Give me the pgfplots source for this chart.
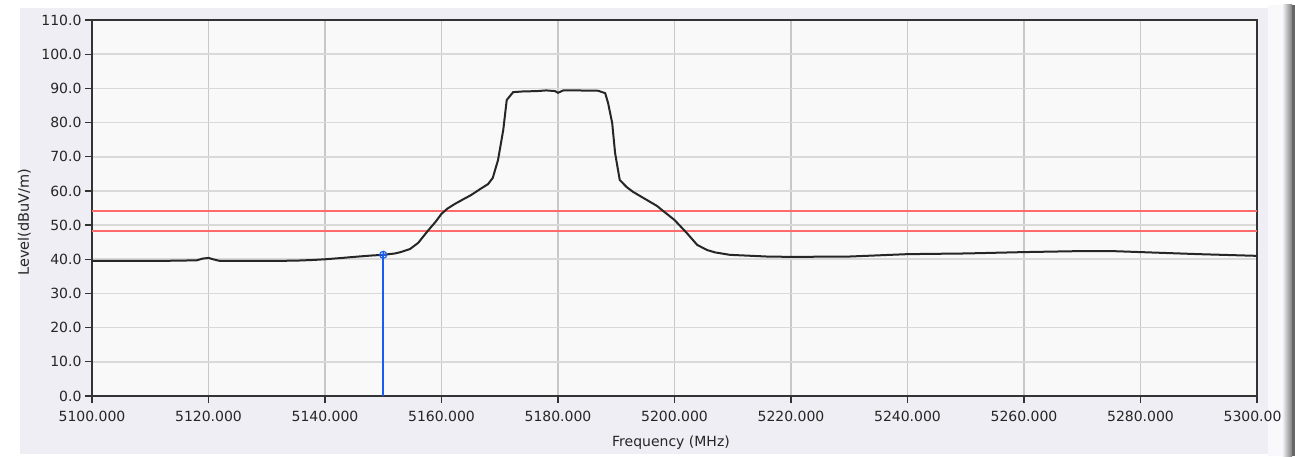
\documentclass[border=0pt]{standalone}
\usepackage{pgfplots}
\pgfplotsset{compat=1.18}
\usepackage{fontspec}
\setmainfont{DejaVu Sans}
\definecolor{panel}{HTML}{EFEEF4}
\definecolor{plotbg}{HTML}{F9F9F9}
\definecolor{gridh}{HTML}{D9D9D9}
\definecolor{gridv}{HTML}{C8C8C8}
\definecolor{limred}{HTML}{FF6A6A}
\definecolor{mkblue}{HTML}{1A5CF0}
\begin{document}
\begin{tikzpicture}
\clip (-92pt,-60pt) rectangle (1203pt,396pt);
\fill[white] (-92pt,-60pt) rectangle (1203pt,396pt);
\fill[panel] (-72pt,-58pt) rectangle (1176pt,388pt);
\fill[white!60!panel] (1176pt,-60pt) rectangle (1190pt,391pt);
\begin{axis}[
  at={(0,0)}, anchor=south west,
  width=1165pt, height=376pt, scale only axis,
  xmin=5100, xmax=5300, ymin=0, ymax=110,
  xtick={5100,5120,...,5300},
  ytick={0,10,...,110},
  axis background/.style={fill=plotbg},
  grid=major,
  x grid style={gridv, line width=1.6pt},
  y grid style={gridh, line width=1.6pt},
  axis line style={black!80, line width=1.3pt},
  tick align=outside, tick pos=left,
  major tick length=7pt,
  tick style={black!80, line width=1.3pt},
  /pgf/number format/assume math mode=true,
  xticklabel style={yshift=-5pt, /pgf/number format/.cd, fixed, fixed zerofill, precision=3, 1000 sep={}},
  yticklabel style={/pgf/number format/.cd, fixed, fixed zerofill, precision=1},
  scaled x ticks=false,
  ticklabel style={font=\fontsize{14}{16}\selectfont, text=black!85},
  xlabel={Frequency (MHz)},
  ylabel={Level(dBuV/m)},
  xlabel style={at={(axis description cs:0.497,-0.125)}, anchor=center, font=\fontsize{14}{16}\selectfont, text=black!85},
  ylabel style={at={(axis description cs:-0.058,0.463)}, anchor=center, font=\fontsize{14.5}{16}\selectfont, text=black!85},
  clip=true,
]
\addplot[limred, line width=2pt] coordinates {(5100,54) (5300,54)};
\addplot[limred, line width=2pt] coordinates {(5100,48.2) (5300,48.2)};
\addplot[black!85, line width=2pt] coordinates {
(5100,39.5) (5105,39.5) (5110,39.5) (5115,39.6) (5118,39.7) (5119,40.2) (5120,40.4)
(5121,39.9) (5122,39.5) (5125,39.5) (5130,39.5) (5135,39.6) (5138,39.8) (5140,40.0)
(5143,40.4) (5145,40.7) (5148,41.1) (5150,41.3) (5152,41.7) (5153,42.1) (5154.6,43.0)
(5156,44.8) (5157.5,48.0) (5159,51.0) (5160,53.3) (5161,54.8) (5162.3,56.2) (5164,57.8)
(5165,58.7) (5166.6,60.5) (5168,62.0) (5168.8,63.8) (5169.7,69) (5170.6,77.8)
(5171.2,86.6) (5172.3,88.9) (5174,89.1) (5176.4,89.2) (5178,89.4) (5179.5,89.2)
(5180,88.7) (5180.9,89.4) (5183,89.4) (5186.9,89.3) (5188.1,88.6) (5188.6,85.7)
(5189.3,79.9) (5189.8,71.1) (5190.6,63.2) (5191.8,61.1) (5192.9,59.7) (5195.3,57.3)
(5197,55.6) (5198,54.2) (5200,51.5) (5202.1,47.7) (5203.9,44.2) (5205.6,42.7)
(5207,42.0) (5209.5,41.3) (5215.9,40.8) (5220,40.7) (5230,40.8) (5240,41.5)
(5250,41.7) (5260,42.1) (5270,42.4) (5275,42.4) (5280,42.1) (5290,41.5) (5300,41.0)
};
\addplot[mkblue, line width=2pt] coordinates {(5150,0) (5150,41.3)};
\addplot[mkblue, only marks, mark=oplus, mark size=3.5pt, mark options={line width=1.2pt}] coordinates {(5150,41.3)};
\end{axis}
\shade[left color=white!60!panel, right color=black!50] (1190pt,-60pt) rectangle (1200pt,391pt);
\fill[black!60] (1200pt,-60pt) rectangle (1203pt,391pt);
\end{tikzpicture}
\end{document}
